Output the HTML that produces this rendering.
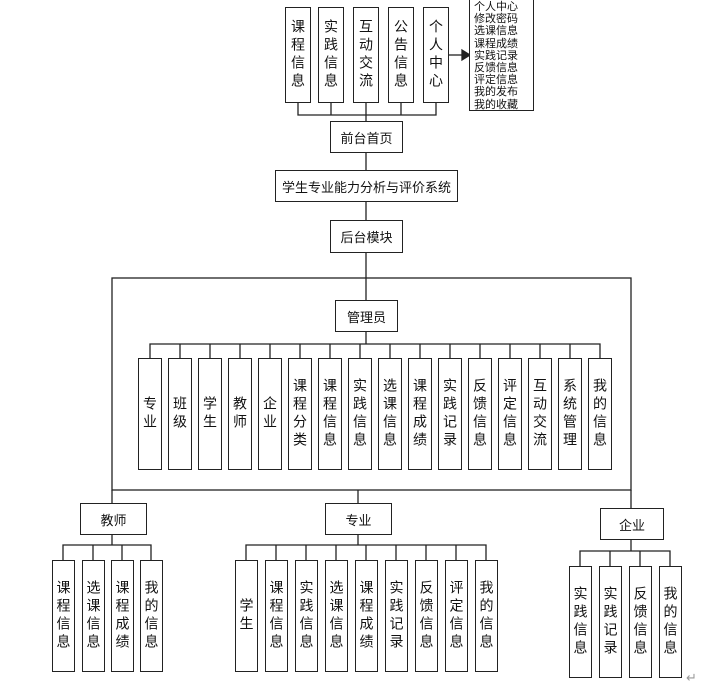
<!DOCTYPE html>
<html><head><meta charset="utf-8"><style>
body{margin:0;width:708px;height:690px;background:#fff;position:relative;overflow:hidden;font-family:"Liberation Sans","Noto Sans CJK SC",sans-serif;color:#111}
.b{position:absolute;border:1.5px solid #222;box-sizing:border-box;background:#fff;display:flex;align-items:center;justify-content:center;font-size:13px}
.v{writing-mode:vertical-rl;text-orientation:upright;letter-spacing:4px;font-size:14px}
svg{position:absolute;left:0;top:0}
</style></head><body>
<svg width="708" height="690"><g stroke="#222" stroke-width="1.3" fill="none">
<!-- top -->
<path d="M298 103V115H436V103M331 103V115M366 103V121M401 103V115"/>
<path d="M366 153V170M366 202V220M366 253V278"/>
<path d="M449 55H462"/><path d="M462 50L470 55L462 60Z" fill="#222"/>
<rect x="112" y="278" width="519" height="212"/>
<path d="M366 278V300M366 332V344"/>
<path d="M150 358V344H600V358M180 344V358M210 344V358M240 344V358M270 344V358M300 344V358M330 344V358M360 344V358M390 344V358M420 344V358M450 344V358M480 344V358M510 344V358M540 344V358M570 344V358"/>
<path d="M112 490V503M358 490V503M631 490V508"/>
<path d="M112 535V545M63 560V545H151V560M93 545V560M122 545V560"/>
<path d="M358 535V545M246 560V545H486V560M276 545V560M306 545V560M336 545V560M366 545V560M396 545V560M426 545V560M456 545V560"/>
<path d="M631 540V551M580 566V551H670V566M610 551V566M640 551V566"/>
</g></svg>
<div class="b v" style="left:285px;top:7px;width:26px;height:96px">课程信息</div>
<div class="b v" style="left:318px;top:7px;width:26px;height:96px">实践信息</div>
<div class="b v" style="left:353px;top:7px;width:26px;height:96px">互动交流</div>
<div class="b v" style="left:388px;top:7px;width:26px;height:96px">公告信息</div>
<div class="b v" style="left:423px;top:7px;width:26px;height:96px">个人中心</div>
<div class="b" style="left:469px;top:-2px;width:65px;height:113px;display:block;font-size:11px;line-height:12.2px;padding:2px 0 0 4px">个人中心<br>修改密码<br>选课信息<br>课程成绩<br>实践记录<br>反馈信息<br>评定信息<br>我的发布<br>我的收藏</div>
<div class="b" style="left:330px;top:121px;width:73px;height:32px">前台首页</div>
<div class="b" style="left:275px;top:170px;width:183px;height:32px">学生专业能力分析与评价系统</div>
<div class="b" style="left:330px;top:220px;width:73px;height:33px">后台模块</div>
<div class="b" style="left:335px;top:300px;width:63px;height:32px">管理员</div>
<div class="b v" style="left:138px;top:358px;width:24px;height:112px">专业</div>
<div class="b v" style="left:168px;top:358px;width:24px;height:112px">班级</div>
<div class="b v" style="left:198px;top:358px;width:24px;height:112px">学生</div>
<div class="b v" style="left:228px;top:358px;width:24px;height:112px">教师</div>
<div class="b v" style="left:258px;top:358px;width:24px;height:112px">企业</div>
<div class="b v" style="left:288px;top:358px;width:24px;height:112px">课程分类</div>
<div class="b v" style="left:318px;top:358px;width:24px;height:112px">课程信息</div>
<div class="b v" style="left:348px;top:358px;width:24px;height:112px">实践信息</div>
<div class="b v" style="left:378px;top:358px;width:24px;height:112px">选课信息</div>
<div class="b v" style="left:408px;top:358px;width:24px;height:112px">课程成绩</div>
<div class="b v" style="left:438px;top:358px;width:24px;height:112px">实践记录</div>
<div class="b v" style="left:468px;top:358px;width:24px;height:112px">反馈信息</div>
<div class="b v" style="left:498px;top:358px;width:24px;height:112px">评定信息</div>
<div class="b v" style="left:528px;top:358px;width:24px;height:112px">互动交流</div>
<div class="b v" style="left:558px;top:358px;width:24px;height:112px">系统管理</div>
<div class="b v" style="left:588px;top:358px;width:24px;height:112px">我的信息</div>
<div class="b" style="left:80px;top:503px;width:67px;height:32px">教师</div>
<div class="b" style="left:325px;top:503px;width:67px;height:32px">专业</div>
<div class="b" style="left:600px;top:508px;width:64px;height:32px">企业</div>
<div class="b v" style="left:52px;top:560px;width:23px;height:112px">课程信息</div>
<div class="b v" style="left:82px;top:560px;width:23px;height:112px">选课信息</div>
<div class="b v" style="left:111px;top:560px;width:23px;height:112px">课程成绩</div>
<div class="b v" style="left:140px;top:560px;width:23px;height:112px">我的信息</div>
<div class="b v" style="left:235px;top:560px;width:23px;height:112px">学生</div>
<div class="b v" style="left:265px;top:560px;width:23px;height:112px">课程信息</div>
<div class="b v" style="left:295px;top:560px;width:23px;height:112px">实践信息</div>
<div class="b v" style="left:325px;top:560px;width:23px;height:112px">选课信息</div>
<div class="b v" style="left:355px;top:560px;width:23px;height:112px">课程成绩</div>
<div class="b v" style="left:385px;top:560px;width:23px;height:112px">实践记录</div>
<div class="b v" style="left:415px;top:560px;width:23px;height:112px">反馈信息</div>
<div class="b v" style="left:445px;top:560px;width:23px;height:112px">评定信息</div>
<div class="b v" style="left:475px;top:560px;width:23px;height:112px">我的信息</div>
<div class="b v" style="left:569px;top:566px;width:23px;height:112px">实践信息</div>
<div class="b v" style="left:599px;top:566px;width:23px;height:112px">实践记录</div>
<div class="b v" style="left:629px;top:566px;width:23px;height:112px">反馈信息</div>
<div class="b v" style="left:659px;top:566px;width:23px;height:112px">我的信息</div>
<div style="position:absolute;left:686px;top:670px;font-size:13px;color:#999">↵</div>
</body></html>
